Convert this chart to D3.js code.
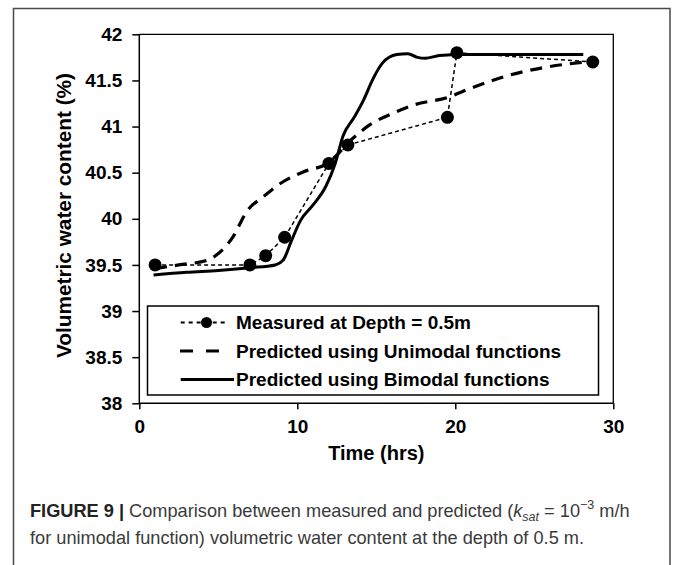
<!DOCTYPE html>
<html>
<head>
<meta charset="utf-8">
<script src="https://cdn.jsdelivr.net/npm/d3@7"></script>
<style>
  html, body { margin: 0; padding: 0; background: #fff; }
  svg { display: block; }
  .axis text { font-family: "Liberation Sans", Arial, sans-serif; font-weight: bold; font-size: 19px; fill: #000; }
  .axis path, .axis line { stroke: #000; stroke-width: 1.5px; }
</style>
</head>
<body>
<svg id="chart" width="673" height="565"></svg>
<script>
// Measured volumetric water content at 0.5 m depth
const measuredTime = [1, 7, 8, 9.2, 12, 13.2, 19.5, 20.1, 28.7];
const measuredVWC  = [39.5, 39.5, 39.6, 39.8, 40.6, 40.8, 41.1, 41.8, 41.7];

// Prediction with unimodal functions
const unimodalTime = [1, 2.5, 4.3, 4.9, 5.95, 6.8, 7.85, 8.9, 10.4, 11.9, 13.5, 14.6, 16, 17.3, 19.6, 20.9, 23.5, 25.6, 27.7, 28.7];
const unimodalVWC  = [39.46, 39.5, 39.55, 39.61, 39.81, 40.08, 40.24, 40.38, 40.51, 40.6, 40.87, 41.02, 41.14, 41.23, 41.32, 41.41, 41.56, 41.64, 41.69, 41.71];

// Prediction with bimodal functions
const bimodalTime = [0.9, 3, 5, 7, 8.6, 9.1, 9.6, 10.2, 11.0, 11.8, 12.4, 12.9, 13.6, 14.2, 14.8, 15.4, 16.3, 17.0, 17.6, 18.1, 19.0, 20.5, 24, 28.1];
const bimodalVWC  = [39.39, 39.42, 39.44, 39.47, 39.5, 39.55, 39.75, 39.98, 40.15, 40.35, 40.6, 40.9, 41.1, 41.29, 41.52, 41.69, 41.78, 41.79, 41.75, 41.74, 41.77, 41.78, 41.78, 41.78];

const xTicks = [0, 10, 20, 30];
const yTicks = [38, 38.5, 39, 39.5, 40, 40.5, 41, 41.5, 42];

const legendLabels = [
  "Measured at Depth = 0.5m",
  "Predicted using Unimodal functions",
  "Predicted using Bimodal functions"
];

const svg = d3.select("#chart");

// outer figure frame (open at the bottom)
svg.append("path")
  .attr("d", "M13.5,565 V8.5 H670 V565")
  .attr("fill", "none")
  .attr("stroke", "#4a4a4a")
  .attr("stroke-width", 1.5);

const x = d3.scaleLinear().domain([0, 30]).range([139.3, 613.3]);
const y = d3.scaleLinear().domain([38, 42]).range([403.3, 34.3]);

// plot frame top and right
svg.append("path")
  .attr("d", `M${x(0)},${y(42)} H${x(30)} V${y(38)}`)
  .attr("fill", "none")
  .attr("stroke", "#000")
  .attr("stroke-width", 1.3);

svg.append("g")
  .attr("class", "axis")
  .attr("transform", `translate(${x(0)},0)`)
  .call(d3.axisLeft(y).tickValues(yTicks).tickSize(7).tickPadding(10).tickFormat(d3.format("")))
  .call(g => g.select(".domain").attr("d", `M0,${y(42)}V${y(38)}`));

svg.append("g")
  .attr("class", "axis")
  .attr("transform", `translate(0,${y(38)})`)
  .call(d3.axisBottom(x).tickValues(xTicks).tickSize(6).tickPadding(10).tickFormat(d3.format("")))
  .call(g => g.select(".domain").attr("d", `M${x(0)},0H${x(30)}`));

// axis titles
svg.append("text")
  .attr("x", x(15))
  .attr("y", 460)
  .attr("text-anchor", "middle")
  .style("font-family", "Liberation Sans, Arial, sans-serif")
  .style("font-weight", "bold")
  .style("font-size", "20px")
  .text("Time (hrs)");

svg.append("text")
  .attr("transform", "translate(71,215.5) rotate(-90)")
  .attr("text-anchor", "middle")
  .style("font-family", "Liberation Sans, Arial, sans-serif")
  .style("font-weight", "bold")
  .style("font-size", "20.8px")
  .text("Volumetric water content (%)");

const line = d3.line().x(d => x(d[0])).y(d => y(d[1]));

const measured = d3.zip(measuredTime, measuredVWC);
const unimodal = d3.zip(unimodalTime, unimodalVWC);
const bimodal  = d3.zip(bimodalTime, bimodalVWC);

svg.append("path")
  .datum(unimodal)
  .attr("d", line.curve(d3.curveMonotoneX))
  .attr("fill", "none")
  .attr("stroke", "#000")
  .attr("stroke-width", 3.2)
  .attr("stroke-dasharray", "12,8");

svg.append("path")
  .datum(bimodal)
  .attr("d", line.curve(d3.curveMonotoneX))
  .attr("fill", "none")
  .attr("stroke", "#000")
  .attr("stroke-width", 3);

svg.append("path")
  .datum(measured)
  .attr("d", line.curve(d3.curveLinear))
  .attr("fill", "none")
  .attr("stroke", "#000")
  .attr("stroke-width", 1.5)
  .attr("stroke-dasharray", "4,3");

svg.append("g")
  .selectAll("circle")
  .data(measured)
  .join("circle")
  .attr("cx", d => x(d[0]))
  .attr("cy", d => y(d[1]))
  .attr("r", 6.5)
  .attr("fill", "#000");

// legend
const lg = svg.append("g");
lg.append("rect")
  .attr("x", 147.5).attr("y", 306)
  .attr("width", 451).attr("height", 89)
  .attr("fill", "#fff")
  .attr("stroke", "#000")
  .attr("stroke-width", 1.5);

const rowY = [322.5, 351, 379.5];

// measured sample: thin dashes with a dot
lg.append("line")
  .attr("x1", 180.7).attr("x2", 227)
  .attr("y1", rowY[0]).attr("y2", rowY[0])
  .attr("stroke", "#000").attr("stroke-width", 2)
  .attr("stroke-dasharray", "4,4");
lg.append("circle")
  .attr("cx", 206.5).attr("cy", rowY[0]).attr("r", 5.5).attr("fill", "#000");

// unimodal sample: long dashes
lg.append("line")
  .attr("x1", 180).attr("x2", 220)
  .attr("y1", rowY[1]).attr("y2", rowY[1])
  .attr("stroke", "#000").attr("stroke-width", 3.2)
  .attr("stroke-dasharray", "13,13");

// bimodal sample: solid
lg.append("line")
  .attr("x1", 180.7).attr("x2", 234)
  .attr("y1", rowY[2]).attr("y2", rowY[2])
  .attr("stroke", "#000").attr("stroke-width", 3);

lg.selectAll("text.lab")
  .data(legendLabels)
  .join("text")
  .attr("class", "lab")
  .attr("x", 236)
  .attr("y", (d, i) => rowY[i])
  .attr("dy", "0.35em")
  .style("font-family", "Liberation Sans, Arial, sans-serif")
  .style("font-weight", "bold")
  .style("font-size", "19px")
  .text(d => d);

// figure caption
const cap = svg.append("g")
  .style("font-family", "Liberation Sans, Arial, sans-serif")
  .style("font-size", "18.2px")
  .style("fill", "#3a3a3a");

const l1 = cap.append("text").attr("x", 30).attr("y", 517);
l1.append("tspan").style("font-weight", "bold").style("fill", "#222").text("FIGURE 9 | ");
l1.append("tspan").text("Comparison between measured and predicted (");
l1.append("tspan").style("font-style", "italic").text("k");
l1.append("tspan").style("font-style", "italic").style("font-size", "12.5px").attr("dy", 4).text("sat");
l1.append("tspan").attr("dy", -4).text(" = 10");
l1.append("tspan").style("font-size", "12.5px").attr("dy", -8).text("\u22123");
l1.append("tspan").attr("dy", 8).text(" m/h");

cap.append("text").attr("x", 30).attr("y", 544)
  .text("for unimodal function) volumetric water content at the depth of 0.5 m.");
</script>
</body>
</html>
